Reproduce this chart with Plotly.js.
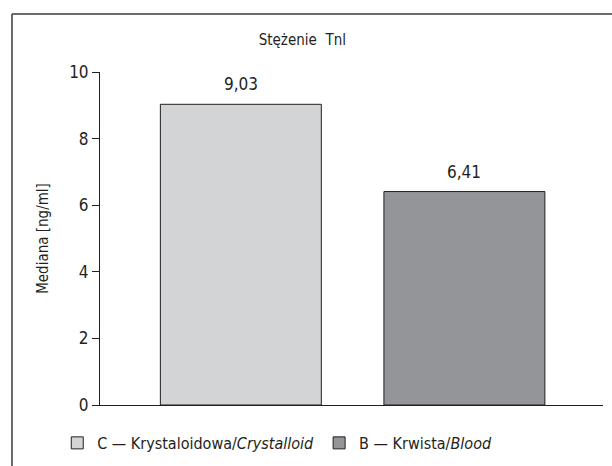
<!DOCTYPE html>
<html>
<head>
<meta charset="utf-8">
<script src="https://cdn.plot.ly/plotly-3.0.1.min.js"></script>
<style>html,body{margin:0;padding:0;background:#fff;overflow:hidden;}#chart{width:612px;height:466px;}</style>
</head>
<body>
<div id="chart"></div>
<script>
const categories = ["C — Krystaloidowa/<i>Crystalloid</i>", "B — Krwista/<i>Blood</i>"];
const values = [9.03, 6.41];
const colors = ["#d3d4d6", "#939598"];
const yTicks = [0, 2, 4, 6, 8, 10];
const chartTitle = "Stężenie  Tnl";
const yTitle = "Mediana [ng/ml]";

const FONT = '"Liberation Sans Narrow", "DejaVu Sans Condensed", sans-serif';
const INK = '#231f20';

const traces = categories.map((name, i) => ({
  type: 'bar',
  x: [i],
  y: [values[i]],
  name: name,
  width: 0.72,
  marker: {color: colors[i], line: {color: INK, width: 1}},
  hoverinfo: 'skip'
}));

const annotations = values.map((v, i) => ({
  x: i, y: v, xref: 'x', yref: 'y',
  text: v.toFixed(2).replace('.', ','),
  showarrow: false, yanchor: 'bottom', yshift: 8,
  font: {family: FONT, size: 17, color: INK}
}));

const layout = {
  width: 612, height: 466,
  margin: {l: 100, r: 9, t: 72, b: 61, autoexpand: false},
  paper_bgcolor: '#fff', plot_bgcolor: '#fff',
  font: {family: FONT, size: 17, color: INK},
  title: {text: chartTitle, xref: 'container', x: 0.494, yref: 'container', y: 0.914, yanchor: 'middle', xanchor: 'center', font: {family: FONT, size: 15, color: INK}},
  barmode: 'overlay',
  xaxis: {range: [-0.63, 1.62], showticklabels: false, ticks: '', showgrid: false, zeroline: false, showline: true, linecolor: INK, linewidth: 1, fixedrange: true, automargin: false},
  yaxis: {range: [0, 10], tickvals: yTicks, ticktext: yTicks.map(String), ticks: 'outside', ticklen: 7, tickwidth: 1, tickcolor: INK, showgrid: false, zeroline: false, showline: true, linecolor: INK, linewidth: 1, fixedrange: true, automargin: false,
    tickfont: {family: FONT, size: 17, color: INK},
    title: {text: yTitle, standoff: 16, font: {family: FONT, size: 15, color: INK}}},
  showlegend: true,
  legend: {orientation: 'h', x: -0.085, xanchor: 'left', y: -0.114, yanchor: 'middle', font: {family: FONT, size: 16, color: INK}, bgcolor: 'rgba(0,0,0,0)', itemwidth: 30, traceorder: 'normal'},
  annotations: annotations,
  shapes: [
    {type: 'line', xref: 'paper', yref: 'paper', x0: -0.175, x1: 1.018, y0: 1.174, y1: 1.174, line: {color: '#3a3a3a', width: 1.5}},
    {type: 'line', xref: 'paper', yref: 'paper', x0: -0.175, x1: -0.175, y0: 1.174, y1: -0.2, line: {color: '#3a3a3a', width: 1.5}}
  ]
};

Plotly.newPlot('chart', traces, layout, {displayModeBar: false, staticPlot: true});
</script>
</body>
</html>
